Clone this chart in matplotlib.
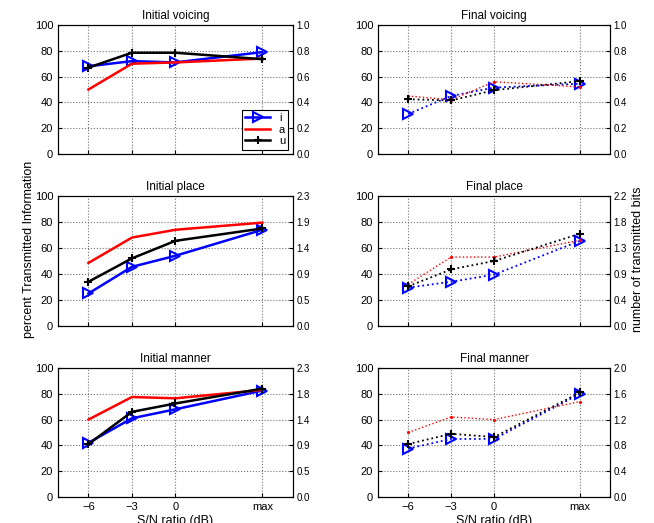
import numpy as np
import matplotlib
matplotlib.use('Agg')
from matplotlib import pyplot as plt

plt.rcParams['font.family'] = ['Liberation Sans', 'DejaVu Sans']
plt.rcParams['font.size'] = 8

# x positions of the S/N conditions (max is drawn further right)
snr_pos = [1, 2, 3, 5]
snr_labels = ['\u22126', '\u22123', '0', 'max']

titles = ['Initial voicing', 'Final voicing', 'Initial place', 'Final place',
          'Initial manner', 'Final manner']

# percent transmitted information, per vowel
i_vals = [[68, 72, 71, 79], [31, 45, 51.5, 54.5],
          [25, 45.5, 54, 74], [29.5, 34, 39.5, 65.5],
          [42, 61, 68, 82.5], [37.5, 45, 45, 80]]
a_vals = [[50, 70, 71, 74], [45, 42, 56, 52],
          [48.5, 68, 74, 79.5], [32, 53, 53, 66],
          [60, 77.5, 76.5, 83], [50, 62, 60, 74]]
u_vals = [[67, 78.5, 78.5, 73.5], [42.5, 41.5, 49.5, 56.5],
          [34, 52, 65.5, 75], [30.5, 43.5, 50, 71],
          [41, 66, 72.5, 84], [41, 49, 46.5, 81]]

# right axis (transmitted bits) tick labels
bits_labels = [['0.0', '0.2', '0.4', '0.6', '0.8', '1.0'],
               ['0.0', '0.2', '0.4', '0.6', '0.8', '1.0'],
               ['0.0', '0.5', '0.9', '1.4', '1.9', '2.3'],
               ['0.0', '0.4', '0.9', '1.3', '1.8', '2.2'],
               ['0.0', '0.5', '0.9', '1.4', '1.8', '2.3'],
               ['0.0', '0.4', '0.8', '1.2', '1.6', '2.0']]

fig = plt.figure(figsize=(6.54, 5.23), dpi=100)

col_x = [0.0887, 0.578]
col_w = [0.359, 0.355]
row_y = [0.7055, 0.3767, 0.0497]
row_h = [0.2467, 0.2486, 0.2467]

for k in range(6):
    r, c = k // 2, k % 2
    ax = fig.add_axes([col_x[c], row_y[r], col_w[c], row_h[r]])
    final = (c == 1)
    ls = ':' if final else '-'
    lw = 1.3 if final else 1.8
    ax.plot(snr_pos, i_vals[k], color='b', ls=ls, lw=lw, marker='>',
            ms=6.5, mfc='none', mew=1.5, label='i')
    ax.plot(snr_pos, a_vals[k], color='r', ls=ls, lw=1.0 if final else lw,
            marker='.' if final else None, ms=2.5, label='a')
    ax.plot(snr_pos, u_vals[k], color='k', ls=ls, lw=lw, marker='+',
            ms=6, mew=1.5, label='u')
    ax.set_xlim(0.3, 5.7)
    ax.set_ylim(0, 100)
    ax.set_yticks(np.arange(0, 101, 20))
    ax.set_xticks(snr_pos)
    if r == 2:
        ax.set_xticklabels(snr_labels)
        ax.set_xlabel('S/N ratio (dB)', fontsize=9, labelpad=2)
    else:
        ax.set_xticklabels([])
    ax.grid(True, ls=':', color='0.45', lw=0.8)
    ax.tick_params(direction='in', length=3, labelsize=8)
    ax.set_title(titles[k], fontsize=8.5, pad=4)

    ax2 = ax.twinx()
    ax2.set_ylim(0, 1)
    ax2.set_yticks(np.linspace(0, 1, 6))
    ax2.set_yticklabels(bits_labels[k], fontsize=7)
    ax2.tick_params(direction='in', length=3, pad=2.5)

    if k == 0:
        leg = ax.legend(loc='lower right', fancybox=False, edgecolor='k',
                        fontsize=8, handlelength=2.2, borderaxespad=0.4,
                        labelspacing=0.15, borderpad=0.3, framealpha=1)
        leg.get_frame().set_linewidth(0.8)

fig.text(0.045, 0.524, 'percent Transmitted Information', rotation=90,
         ha='center', va='center', fontsize=9)
fig.text(0.976, 0.505, 'number of transmitted bits', rotation=90,
         ha='center', va='center', fontsize=9)

fig.savefig('out.png', dpi=100)
